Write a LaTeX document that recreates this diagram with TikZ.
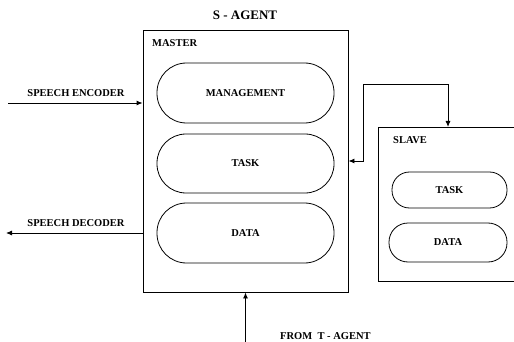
\documentclass[tikz,border=0pt]{standalone}
\usepackage{fontspec}
\setmainfont{Liberation Serif}
\usetikzlibrary{arrows.meta}
\begin{document}
\begin{tikzpicture}[x=1pt,y=-1pt,
  box/.style={draw,line width=0.9pt,inner sep=0pt},
  pill/.style={draw,line width=0.8pt,rounded corners=#1,inner sep=0pt,font=\fontsize{10.5}{12}\selectfont\bfseries},
  lbl/.style={inner sep=0pt,font=\fontsize{10.5}{12}\selectfont\bfseries},
  tip/.tip={Latex[length=6pt,width=5pt]},
  arr/.style={line width=0.9pt,-tip}]
\useasboundingbox (0,0) rectangle (514,342);
\clip (0,0) rectangle (514,342);
% boxes
\node[box,minimum width=205pt,minimum height=262pt] (master) at (245.5,161) {};
\node[box,minimum width=150pt,minimum height=154pt,anchor=north west] (slave) at (378,127) {};
% titles
\node[lbl,font=\fontsize{13}{15}\selectfont\bfseries] (title) at (245,15) {S - AGENT};
\node[lbl,anchor=west] (mlabel) at (152,43) {MASTER};
\node[lbl,anchor=west] (slabel) at (393,140) {SLAVE};
% master pills
\node[pill=29.5pt,minimum width=177pt,minimum height=60pt] (mgmt) at (245.5,93) {MANAGEMENT};
\node[pill=29pt,minimum width=177pt,minimum height=59pt] (mtask) at (245.5,163.5) {TASK};
\node[pill=29.5pt,minimum width=177pt,minimum height=60pt] (mdata) at (245.5,233) {DATA};
% slave pills
\node[pill=17.5pt,minimum width=115pt,minimum height=36pt] (stask) at (449.5,190) {TASK};
\node[pill=19pt,minimum width=118pt,minimum height=39pt] (sdata) at (448,242.5) {DATA};
% external arrows
\coordinate (encIn) at (8,103);
\draw[arr] (encIn) -- (encIn -| master.west);
\node[lbl] (enclbl) at (76,93) {SPEECH ENCODER};
\coordinate (decOut) at (6,233);
\draw[arr] (decOut -| master.west) -- (decOut);
\node[lbl] (declbl) at (76,223) {SPEECH DECODER};
\coordinate (tIn) at (245.5,345);
\draw[arr] (tIn) -- (master.south);
\node[lbl,anchor=west] (tlbl) at (280,336) {FROM\ \ T - AGENT};
% master <-> slave
\coordinate (c1) at (363,84);
\coordinate (c2) at (448,84);
\draw[line width=0.9pt,tip-tip] (master.east) -- (master.east -| c1) -- (c1) -- (c2) -- (c2 |- slave.north);
\end{tikzpicture}
\end{document}
